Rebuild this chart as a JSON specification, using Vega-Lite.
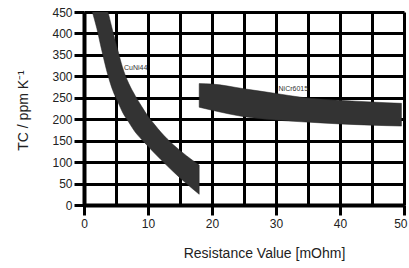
{
  "$schema": "https://vega.github.io/schema/vega-lite/v6.json",
  "width": 320,
  "height": 193,
  "autosize": {"type": "none"},
  "padding": {"left": 84, "top": 12, "right": 5, "bottom": 63},
  "config": {"view": {"stroke": null}, "font": "Liberation Sans"},
  "datasets": {
    "bands": [
      {"alloy": "CuNi44", "resistance": 1.3, "tc_upper": 635, "tc_lower": 450},
      {"alloy": "CuNi44", "resistance": 2, "tc_upper": 560, "tc_lower": 412},
      {"alloy": "CuNi44", "resistance": 2.77, "tc_upper": 505, "tc_lower": 361},
      {"alloy": "CuNi44", "resistance": 3.75, "tc_upper": 450, "tc_lower": 302},
      {"alloy": "CuNi44", "resistance": 4.5, "tc_upper": 405, "tc_lower": 267},
      {"alloy": "CuNi44", "resistance": 5.3, "tc_upper": 360, "tc_lower": 240},
      {"alloy": "CuNi44", "resistance": 6, "tc_upper": 322, "tc_lower": 217},
      {"alloy": "CuNi44", "resistance": 7, "tc_upper": 283, "tc_lower": 193},
      {"alloy": "CuNi44", "resistance": 8, "tc_upper": 255, "tc_lower": 170},
      {"alloy": "CuNi44", "resistance": 9, "tc_upper": 230, "tc_lower": 153},
      {"alloy": "CuNi44", "resistance": 10, "tc_upper": 207, "tc_lower": 137},
      {"alloy": "CuNi44", "resistance": 11, "tc_upper": 188, "tc_lower": 121},
      {"alloy": "CuNi44", "resistance": 12, "tc_upper": 170, "tc_lower": 106},
      {"alloy": "CuNi44", "resistance": 14, "tc_upper": 140, "tc_lower": 77},
      {"alloy": "CuNi44", "resistance": 16, "tc_upper": 115, "tc_lower": 50},
      {"alloy": "CuNi44", "resistance": 18, "tc_upper": 93, "tc_lower": 25},
      {"alloy": "NiCr6015", "resistance": 18, "tc_upper": 283, "tc_lower": 228},
      {"alloy": "NiCr6015", "resistance": 20, "tc_upper": 282, "tc_lower": 221},
      {"alloy": "NiCr6015", "resistance": 25, "tc_upper": 271, "tc_lower": 206},
      {"alloy": "NiCr6015", "resistance": 30, "tc_upper": 260, "tc_lower": 198},
      {"alloy": "NiCr6015", "resistance": 34, "tc_upper": 251, "tc_lower": 194},
      {"alloy": "NiCr6015", "resistance": 40, "tc_upper": 244, "tc_lower": 189},
      {"alloy": "NiCr6015", "resistance": 45, "tc_upper": 240, "tc_lower": 186},
      {"alloy": "NiCr6015", "resistance": 49.6, "tc_upper": 237, "tc_lower": 184}
    ],
    "labels": [
      {"alloy": "CuNi44", "resistance": 6.25, "tc": 319},
      {"alloy": "NiCr6015", "resistance": 30.4, "tc": 270}
    ]
  },
  "encoding": {
    "x": {
      "field": "resistance", "type": "quantitative",
      "scale": {"domain": [0, 50], "nice": false, "zero": false},
      "axis": {
        "title": "Resistance Value [mOhm]",
        "values": [0, 5, 10, 15, 20, 25, 30, 35, 40, 45, 50],
        "grid": true, "gridColor": "#000000", "gridWidth": 3, "gridOpacity": 1,
        "domainColor": "#000000", "domainWidth": 4,
        "tickColor": "#000000", "tickWidth": 3, "tickSize": 10,
        "tickOpacity": {"condition": {"test": "datum.value % 10 !== 0", "value": 0}, "value": 1},
        "labelExpr": "datum.value % 10 === 0 ? datum.label : ''",
        "labelAlign": {"condition": {"test": "datum.value === 50", "value": "right"}, "value": "center"},
        "labelOffset": {"condition": {"test": "datum.value === 50", "value": 3}, "value": 0},
        "labelFontSize": 12, "labelColor": "#222222", "labelPadding": 3,
        "labelFlush": false, "labelOverlap": false, "labelBound": false,
        "titleFontSize": 14, "titleFontWeight": "normal", "titleColor": "#222222",
        "titleX": 180, "titleY": 52.5, "titleAlign": "center", "titleBaseline": "alphabetic"
      }
    },
    "y": {
      "field": "tc_upper", "type": "quantitative",
      "scale": {"domain": [0, 450], "nice": false, "zero": false},
      "axis": {
        "title": "TC / ppm K⁻¹",
        "values": [0, 50, 100, 150, 200, 250, 300, 350, 400, 450],
        "grid": true, "gridColor": "#000000", "gridWidth": 3, "gridOpacity": 1,
        "domainColor": "#000000", "domainWidth": 4,
        "tickColor": "#000000", "tickWidth": 3, "tickSize": 10,
        "labelFontSize": 12, "labelColor": "#222222", "labelPadding": 2,
        "labelFlush": false, "labelOverlap": false, "labelBound": false,
        "titleFontSize": 14, "titleFontWeight": "normal", "titleColor": "#222222",
        "titleX": -57, "titleY": 98, "titleAngle": -90, "titleAlign": "center", "titleBaseline": "alphabetic"
      }
    }
  },
  "layer": [
    {
      "data": {"name": "bands"},
      "mark": {"type": "area", "interpolate": "monotone", "clip": true, "color": "#333333", "stroke": "#222222", "strokeWidth": 0.5},
      "encoding": {
        "y2": {"field": "tc_lower"},
        "detail": {"field": "alloy"}
      }
    },
    {
      "data": {"name": "labels"},
      "mark": {"type": "text", "align": "left", "baseline": "middle", "fontSize": 7, "color": "#333333"},
      "encoding": {
        "y": {"field": "tc", "type": "quantitative"},
        "text": {"field": "alloy"}
      }
    }
  ]
}
